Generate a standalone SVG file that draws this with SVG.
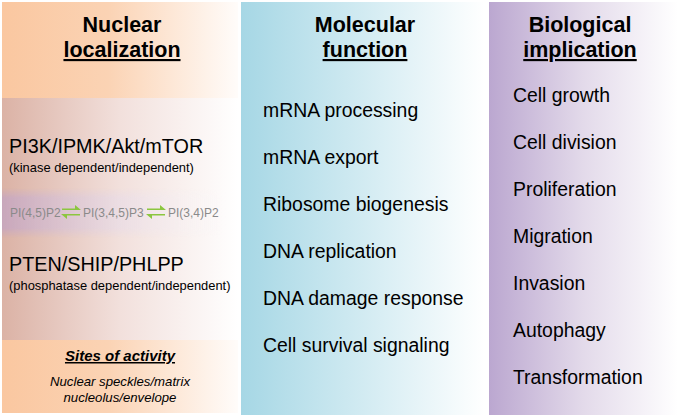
<svg xmlns="http://www.w3.org/2000/svg" width="680" height="418" viewBox="0 0 680 418">
<defs>
<linearGradient id="gOrange" x1="0" y1="0" x2="1" y2="0">
<stop offset="0" stop-color="#FAC7A0"/><stop offset="0.45" stop-color="#FBD3B4"/><stop offset="1" stop-color="#FFFCFA"/>
</linearGradient>
<linearGradient id="gPink" x1="0" y1="0" x2="1" y2="0">
<stop offset="0" stop-color="#DBB2A5"/><stop offset="0.5" stop-color="#F2E0DC"/><stop offset="1" stop-color="#FFFFFF"/>
</linearGradient>
<linearGradient id="gBand" x1="0" y1="0" x2="1" y2="0">
<stop offset="0" stop-color="#C8A7BB"/><stop offset="0.5" stop-color="#E9DCE6" stop-opacity="0.7"/><stop offset="1" stop-color="#FFFFFF" stop-opacity="0"/>
</linearGradient>
<linearGradient id="gBlue" x1="0" y1="0" x2="1" y2="0">
<stop offset="0" stop-color="#A6D7E5"/><stop offset="0.5" stop-color="#D2EBF2"/><stop offset="1" stop-color="#FFFFFF"/>
</linearGradient>
<linearGradient id="gPurple" x1="0" y1="0" x2="1" y2="0">
<stop offset="0" stop-color="#BBA7D0"/><stop offset="0.5" stop-color="#E3DAEA"/><stop offset="1" stop-color="#FFFFFF"/>
</linearGradient>
<linearGradient id="gBandV" x1="0" y1="0" x2="0" y2="1">
<stop offset="0" stop-color="#fff" stop-opacity="0"/><stop offset="0.2" stop-color="#fff" stop-opacity="1"/><stop offset="0.8" stop-color="#fff" stop-opacity="1"/><stop offset="1" stop-color="#fff" stop-opacity="0"/>
</linearGradient>
<mask id="bandMask"><rect x="2" y="188" width="236" height="50" fill="url(#gBandV)"/></mask>
</defs>
<style>
text{font-family:"Liberation Sans",Arial,sans-serif;fill:#000}
.h{font-size:21.5px;font-weight:bold;text-anchor:middle}
.u{text-decoration:underline}
.item{font-size:19.4px}
.big{font-size:19.8px}
.small{font-size:12.9px}
.pi{font-size:12px;fill:#8A8A8A}
.it{font-size:13.2px;font-style:italic;text-anchor:middle}
.arr{fill:#8CC63F}
</style>
<rect width="680" height="418" fill="#FFFFFF"/>
<g id="nuclear-localization">
<rect x="2" y="2" width="236" height="96" fill="url(#gOrange)"/>
<rect x="2" y="98" width="236" height="242" fill="url(#gPink)"/>
<rect x="2" y="188" width="236" height="50" fill="url(#gBand)" mask="url(#bandMask)"/>
<rect x="2" y="340" width="236" height="73" fill="url(#gOrange)"/>
<text class="h" x="122" y="32">Nuclear</text>
<text class="h u" x="122" y="57">localization</text>
<text class="big" x="9" y="153">PI3K/IPMK/Akt/mTOR</text>
<text class="small" x="9" y="172">(kinase dependent/independent)</text>
<text class="pi" x="10" y="217">PI(4,5)P2</text>
<text class="pi" x="83" y="217">PI(3,4,5)P3</text>
<text class="pi" x="168" y="217">PI(3,4)P2</text>
<text class="big" x="9" y="271">PTEN/SHIP/PHLPP</text>
<text class="small" x="9" y="290">(phosphatase dependent/independent)</text>
<text class="it u" x="120" y="361" style="font-weight:bold;font-size:15px">Sites of activity</text>
<text class="it" x="120" y="386">Nuclear speckles/matrix</text>
<text class="it" x="120" y="402">nucleolus/envelope</text>
</g>
<g id="connectors">
<path class="arr" d="M62 208.5 H75 V205 L81 210 H62 Z"/>
<path class="arr" d="M80 215.5 H67 V219 L61 214 H80 Z"/>
<path class="arr" d="M147 208.5 H160 V205 L166 210 H147 Z"/>
<path class="arr" d="M165 215.5 H152 V219 L146 214 H165 Z"/>
</g>
<g id="molecular-function">
<rect x="241" y="2" width="244" height="413" fill="url(#gBlue)"/>
<text class="h" x="365" y="32">Molecular</text>
<text class="h u" x="365" y="57">function</text>
<text class="item" x="263" y="117">mRNA processing</text>
<text class="item" x="263" y="164">mRNA export</text>
<text class="item" x="263" y="211">Ribosome biogenesis</text>
<text class="item" x="263" y="258">DNA replication</text>
<text class="item" x="263" y="305">DNA damage response</text>
<text class="item" x="263" y="352">Cell survival signaling</text>
</g>
<g id="biological-implication">
<rect x="489" y="2" width="189" height="413" fill="url(#gPurple)"/>
<text class="h" x="580" y="32">Biological</text>
<text class="h u" x="580" y="57">implication</text>
<text class="item" x="513" y="102">Cell growth</text>
<text class="item" x="513" y="149">Cell division</text>
<text class="item" x="513" y="196">Proliferation</text>
<text class="item" x="513" y="243">Migration</text>
<text class="item" x="513" y="290">Invasion</text>
<text class="item" x="513" y="337">Autophagy</text>
<text class="item" x="513" y="384">Transformation</text>
</g>
</svg>
